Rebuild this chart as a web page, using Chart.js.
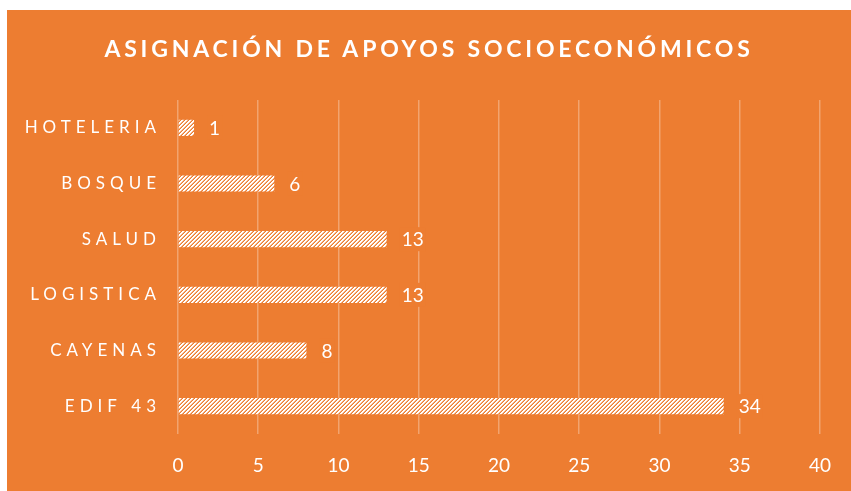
<!DOCTYPE html>
<html>
<head>
<meta charset="utf-8">
<script src="https://cdn.jsdelivr.net/npm/chart.js@4"></script>
<style>
  body { margin: 0; background: #fff; }
  #box { position: absolute; left: 7px; top: 10px; width: 844px; height: 481px; background: #ED7D31; }
  #title { position: absolute; left: 0; top: 24px; width: 844px; text-align: center;
           font: bold 23px Lato, sans-serif; letter-spacing: 3.8px; color: #fff; }
  canvas { position: absolute; left: 0; top: 0; }
</style>
</head>
<body>
<div id="box">
  <canvas id="chart" width="844" height="481"></canvas>
  <div id="title">ASIGNACIÓN DE APOYOS SOCIOECONÓMICOS</div>
</div>
<script>
const categories = ['HOTELERIA', 'BOSQUE', 'SALUD', 'LOGISTICA', 'CAYENAS', 'EDIF 43'];
const apoyos = [1, 6, 13, 13, 8, 34];
const xTicks = [0, 5, 10, 15, 20, 25, 30, 35, 40];

const ORANGE = '#ED7D31';

// white hatch with orange upward diagonals
function makeHatch() {
  const c = document.createElement('canvas');
  c.width = 4; c.height = 4;
  const g = c.getContext('2d');
  g.fillStyle = '#fff';
  g.fillRect(0, 0, 4, 4);
  for (let y = 0; y < 4; y++) {
    for (let x = 0; x < 4; x++) {
      const k = (x + y) % 4;
      if (k === 3) { g.fillStyle = ORANGE; g.fillRect(x, y, 1, 1); }
      if (k === 2) { g.fillStyle = 'rgba(237,125,49,0.6)'; g.fillRect(x, y, 1, 1); }
    }
  }
  return g.createPattern(c, 'repeat');
}

const ctx = document.getElementById('chart').getContext('2d');

// spaced-out category labels on the y axis
const spacedLabels = {
  id: 'spacedLabels',
  beforeDraw(chart) {
    const s = chart.scales.y;
    if (s._spaced) return;
    const orig = s.drawLabels.bind(s);
    s.drawLabels = function (area) {
      this.ctx.save();
      this.ctx.letterSpacing = '5px';
      orig(area);
      this.ctx.restore();
    };
    s._spaced = true;
  }
};

// value labels to the right of each bar
const valueLabels = {
  id: 'valueLabels',
  afterDatasetsDraw(chart) {
    const c = chart.ctx;
    const meta = chart.getDatasetMeta(0);
    c.save();
    c.font = '19px Lato, sans-serif';
    c.textBaseline = 'middle';
    c.textAlign = 'left';
    meta.data.forEach((bar, i) => {
      const txt = String(apoyos[i]);
      const x = bar.x + 15;
      const w = c.measureText(txt).width;
      c.fillStyle = ORANGE;
      c.fillRect(x - 2, bar.y - 12, w + 4, 24);
      c.fillStyle = '#fff';
      c.fillText(txt, x, bar.y + 1);
    });
    c.restore();
  }
};

new Chart(ctx, {
  type: 'bar',
  data: {
    labels: categories,
    datasets: [{
      label: 'Apoyos',
      data: apoyos,
      backgroundColor: makeHatch(),
      borderWidth: 0,
      barPercentage: 0.29,
      categoryPercentage: 1
    }]
  },
  options: {
    indexAxis: 'y',
    responsive: false,
    animation: false,
    layout: { padding: { top: 90, right: 31, bottom: 0, left: 0 } },
    plugins: {
      legend: { display: false },
      title: { display: false },
      tooltip: { enabled: false }
    },
    scales: {
      x: {
        min: 0,
        max: 40,
        afterBuildTicks(scale) { scale.ticks = xTicks.map(v => ({ value: v })); },
        afterFit(scale) { scale.height = 57; },
        grid: { color: 'rgba(255,255,255,0.3)', lineWidth: 1.5, drawTicks: false },
        border: { display: false },
        ticks: { color: '#fff', font: { family: 'Lato', size: 19 }, padding: 20 }
      },
      y: {
        afterFit(scale) { scale.width = 171; },
        grid: { display: false, drawTicks: false },
        border: { display: false },
        ticks: { color: '#fff', font: { family: 'Lato', size: 17 }, padding: 17 }
      }
    }
  },
  plugins: [spacedLabels, valueLabels]
});
</script>
</body>
</html>
